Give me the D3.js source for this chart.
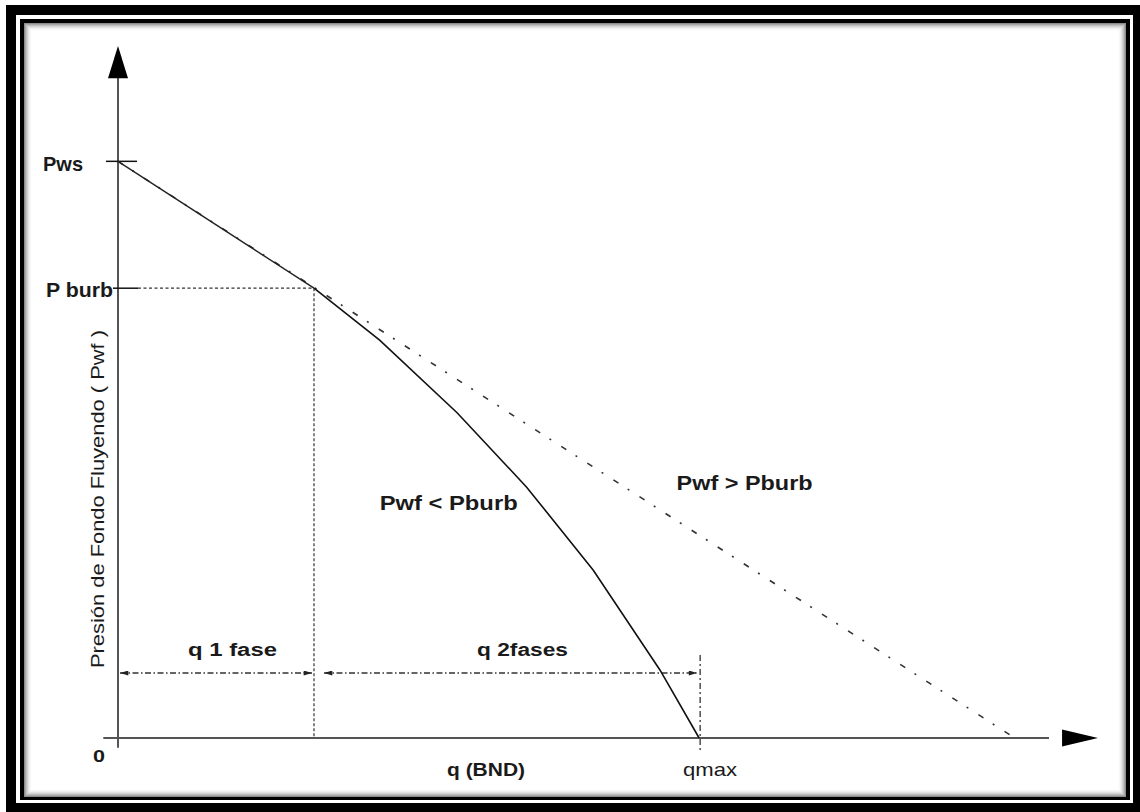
<!DOCTYPE html>
<html>
<head>
<meta charset="utf-8">
<script src="https://cdn.jsdelivr.net/npm/d3@7"></script>
<style>
  body { margin: 0; background: #fff; }
  svg { display: block; font-family: "Liberation Sans", Arial, sans-serif; }
</style>
</head>
<body>
<div id="chart"></div>
<script>
// two-phase part of the IPR curve (below bubble point)
const curveQ = [0.2, 0.267, 0.346, 0.417, 0.485, 0.553, 0.593];
const curveP = [0.78, 0.69, 0.564, 0.435, 0.291, 0.118, 0];
// straight single-phase IPR and its dash-dot extension
const lineQ = [0, 0.2];
const lineP = [1.0, 0.78];
const extQ = [0, 0.915];
const extP = [1.0, 0];
// pressure marks on the y axis
const pLabels = ["Pws", "P burb"];
const pValues = [1.0, 0.78];
// rate marks on the x axis
const qBubble = 0.2;
const qMax = 0.593;
const qLabels = ["q  1  fase", "q 2fases"];
const regionLabels = ["Pwf < Pburb", "Pwf > Pburb"];

const W = 1140, H = 812;

const svg = d3.select("#chart")
  .append("svg")
  .attr("width", W)
  .attr("height", H);

// scales
const x = d3.scaleLinear().domain([0, 1]).range([118, 1098]);
const y = d3.scaleLinear().domain([0, 1.2]).range([738, 46]);

// ---- frame (double black border with inner shadow)
svg.append("rect").attr("x", 6).attr("y", 5).attr("width", 1134).attr("height", 807).attr("fill", "#000");
svg.append("rect").attr("x", 16).attr("y", 15).attr("width", 1117).attr("height", 788).attr("fill", "#fff");
svg.append("rect").attr("x", 20).attr("y", 19).attr("width", 1110).attr("height", 781).attr("fill", "#000");
svg.append("rect").attr("x", 24).attr("y", 23).attr("width", 1102).attr("height", 774).attr("fill", "#fff");
d3.range(8).forEach(i => {
  svg.append("rect")
    .attr("x", 24.5 + i).attr("y", 23.5 + i)
    .attr("width", 1101 - 2 * i).attr("height", 773 - 2 * i)
    .attr("fill", "none")
    .attr("stroke", "#000")
    .attr("stroke-opacity", 0.45 * Math.pow(1 - i / 8, 2));
});

// arrow marker for the rate ranges
const defs = svg.append("defs");
defs.append("marker")
  .attr("id", "tip")
  .attr("viewBox", "0 0 10 6")
  .attr("refX", 10).attr("refY", 3)
  .attr("markerWidth", 9).attr("markerHeight", 5)
  .attr("markerUnits", "userSpaceOnUse")
  .attr("orient", "auto-start-reverse")
  .append("path")
  .attr("d", "M0,0L10,3L0,6Z")
  .attr("fill", "#222");

const line = d3.line().x(d => x(d[0])).y(d => y(d[1]));

// ---- axes
const x0 = x(0), y0 = y(0);
const axisColor = "#555";
svg.append("line")
  .attr("x1", x0).attr("x2", x0)
  .attr("y1", y(-0.017)).attr("y2", y(1.15))
  .attr("stroke", axisColor).attr("stroke-width", 2);
svg.append("path")
  .attr("d", `M${x0 - 10},${y(1.144)}L${x0},${y(1.2)}L${x0 + 10},${y(1.144)}Z`)
  .attr("fill", "#000");
svg.append("line")
  .attr("x1", x(-0.015)).attr("x2", x(0.95))
  .attr("y1", y0).attr("y2", y0)
  .attr("stroke", axisColor).attr("stroke-width", 2);
svg.append("path")
  .attr("d", `M${x(0.9633)},${y0 - 8.5}L${x(1.0)},${y0}L${x(0.9633)},${y0 + 8.5}Z`)
  .attr("fill", "#000");

// ---- guide lines at bubble point
svg.append("line")
  .attr("x1", x0 + 20).attr("x2", x(qBubble))
  .attr("y1", y(pValues[1])).attr("y2", y(pValues[1]))
  .attr("stroke", "#333").attr("stroke-width", 1.2)
  .attr("stroke-dasharray", "3,2.5");
svg.append("line")
  .attr("x1", x(qBubble)).attr("x2", x(qBubble))
  .attr("y1", y(pValues[1])).attr("y2", y0)
  .attr("stroke", "#333").attr("stroke-width", 1.2)
  .attr("stroke-dasharray", "3,2");

// y-axis ticks for Pws and P burb
svg.append("line")
  .attr("x1", x0 - 12).attr("x2", x0 + 19)
  .attr("y1", y(pValues[0])).attr("y2", y(pValues[0]))
  .attr("stroke", "#111").attr("stroke-width", 1.5);
svg.append("line")
  .attr("x1", x0 - 5).attr("x2", x0 + 20)
  .attr("y1", y(pValues[1])).attr("y2", y(pValues[1]))
  .attr("stroke", "#111").attr("stroke-width", 1.5);

// ---- qmax guide (dash-dot)
svg.append("line")
  .attr("x1", x(qMax) + 1).attr("x2", x(qMax) + 1)
  .attr("y1", y0 - 83).attr("y2", y0 + 12)
  .attr("stroke", "#333").attr("stroke-width", 1.3)
  .attr("stroke-dasharray", "6,3,2,3");

// ---- rate range arrows
const arrowY = 673;
svg.append("line")
  .attr("x1", x0 + 2).attr("x2", x(qBubble) - 2)
  .attr("y1", arrowY).attr("y2", arrowY)
  .attr("stroke", "#333").attr("stroke-width", 1.3)
  .attr("stroke-dasharray", "6,2.5,1.5,2.5")
  .attr("marker-start", "url(#tip)")
  .attr("marker-end", "url(#tip)");
svg.append("line")
  .attr("x1", x(qBubble) + 10).attr("x2", x(qMax) - 2)
  .attr("y1", arrowY).attr("y2", arrowY)
  .attr("stroke", "#333").attr("stroke-width", 1.3)
  .attr("stroke-dasharray", "6,2.5,1.5,2.5")
  .attr("marker-start", "url(#tip)")
  .attr("marker-end", "url(#tip)");

// ---- IPR lines
svg.append("path")
  .datum(extQ.map((q, i) => [q, extP[i]]))
  .attr("d", line)
  .attr("fill", "none")
  .attr("stroke", "#333").attr("stroke-width", 1.6)
  .attr("stroke-dasharray", "6,11,2,12");
svg.append("path")
  .datum(lineQ.map((q, i) => [q, lineP[i]]))
  .attr("d", line)
  .attr("fill", "none")
  .attr("stroke", "#222").attr("stroke-width", 1.4);
svg.append("path")
  .datum(curveQ.map((q, i) => [q, curveP[i]]))
  .attr("d", line)
  .attr("fill", "none")
  .attr("stroke", "#111").attr("stroke-width", 1.6);

// ---- text
function label(txt, px, py, size, len, weight, anchor) {
  return svg.append("text")
    .attr("x", px).attr("y", py)
    .attr("font-size", size)
    .attr("font-weight", weight || "bold")
    .attr("text-anchor", anchor || "start")
    .attr("textLength", len)
    .attr("lengthAdjust", "spacingAndGlyphs")
    .attr("fill", "#1a1a1a")
    .text(txt);
}

label(pLabels[0], 43, y(pValues[0]) + 10, 21, 40);
label(pLabels[1], 46, y(pValues[1]) + 9, 21, 67);
label("0", 93, 762, 17, 12);

label(qLabels[0], 188, 656, 18, 89);
label(qLabels[1], 477, 656, 18, 91);
label("q (BND)", 447, 776, 18, 78);
label("qmax", 683, 776, 19, 54, "normal");

label(regionLabels[0], x(0.267), y(0.395), 21, 138);
label(regionLabels[1], x(0.57), y(0.43), 20, 136);

svg.append("text")
  .attr("transform", "translate(104,499) rotate(-90)")
  .attr("text-anchor", "middle")
  .attr("font-size", 18)
  .attr("textLength", 338)
  .attr("lengthAdjust", "spacingAndGlyphs")
  .attr("fill", "#1a1a1a")
  .text("Presión de Fondo Fluyendo ( Pwf )");
</script>
</body>
</html>
